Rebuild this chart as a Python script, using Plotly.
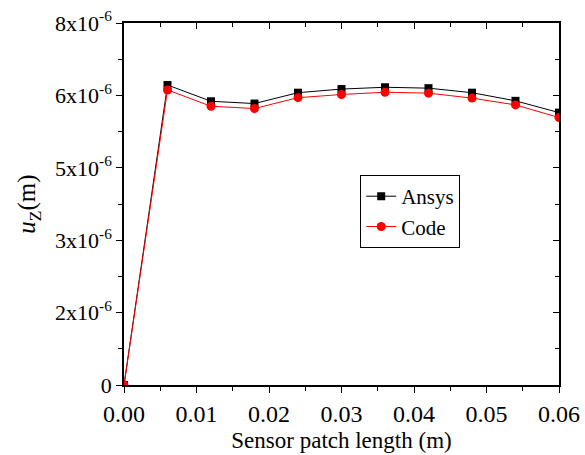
import plotly.graph_objects as go

x_vals = [0.0, 0.006, 0.012, 0.018, 0.024, 0.030, 0.036, 0.042, 0.048, 0.054, 0.060]
ansys = [0.0, 6.63e-6, 6.27e-6, 6.22e-6, 6.46e-6, 6.54e-6, 6.58e-6, 6.56e-6, 6.46e-6, 6.28e-6, 6.02e-6]
code = [0.0, 6.52e-6, 6.16e-6, 6.11e-6, 6.35e-6, 6.42e-6, 6.47e-6, 6.45e-6, 6.34e-6, 6.19e-6, 5.91e-6]

y_tickvals = [0, 1.6e-6, 3.2e-6, 4.8e-6, 6.4e-6, 8e-6]
y_ticktext = ["0", "2x10<sup>-6</sup>", "3x10<sup>-6</sup>", "5x10<sup>-6</sup>",
              "6x10<sup>-6</sup>", "8x10<sup>-6</sup>"]
y_minor = [0.8e-6, 2.4e-6, 4.0e-6, 5.6e-6, 7.2e-6]
x_tickvals = [0.0, 0.01, 0.02, 0.03, 0.04, 0.05, 0.06]
x_ticktext = ["0.00", "0.01", "0.02", "0.03", "0.04", "0.05", "0.06"]

FONT = "Liberation Serif"

fig = go.Figure()
fig.add_trace(go.Scatter(x=x_vals, y=ansys, mode="lines+markers", name="Ansys",
                         line=dict(color="black", width=1),
                         marker=dict(symbol="square", size=8, color="black")))
fig.add_trace(go.Scatter(x=x_vals, y=code, mode="lines+markers", name="Code",
                         line=dict(color="red", width=1),
                         marker=dict(symbol="circle", size=9, color="red")))
fig.add_trace(go.Scatter(x=[0], y=[0], xaxis="x2", yaxis="y2", mode="markers",
                         marker=dict(opacity=0), showlegend=False, hoverinfo="skip"))

axis_common = dict(showgrid=False, zeroline=False, showline=True, linecolor="black",
                   linewidth=1.5, ticklen=6, tickwidth=1.2, tickcolor="black",
                   automargin=False)

fig.update_layout(
    width=585, height=455,
    margin=dict(l=124, r=26, t=23, b=70),
    paper_bgcolor="white", plot_bgcolor="white",
    font=dict(family=FONT, color="black"),
    xaxis=dict(range=[0, 0.06], tickvals=x_tickvals, ticktext=x_ticktext,
               ticks="outside", minor=dict(ticks="outside", dtick=0.005, ticklen=4, tickcolor="black"),
               tickfont=dict(size=24, family=FONT),
               title=dict(text="Sensor patch length (m)", font=dict(size=23, family=FONT), standoff=6),
               **axis_common),
    yaxis=dict(range=[0, 8e-6], tickvals=y_tickvals, ticktext=y_ticktext,
               ticks="outside", minor=dict(ticks="outside", tickvals=y_minor,
                                           ticklen=4, tickcolor="black"),
               tickfont=dict(size=22, family=FONT),
               title=dict(text="<i>u</i><sub>Z</sub>(m)", font=dict(size=25, family=FONT), standoff=12),
               **axis_common),
    xaxis2=dict(range=[0, 0.06], overlaying="x", side="top", tickvals=x_tickvals,
                showticklabels=False, ticks="inside",
                minor=dict(ticks="inside", dtick=0.005, ticklen=4, tickcolor="black"),
                **axis_common),
    yaxis2=dict(range=[0, 8e-6], overlaying="y", side="right", tickvals=y_tickvals,
                showticklabels=False, ticks="inside",
                minor=dict(ticks="inside", tickvals=y_minor, ticklen=4, tickcolor="black"),
                **axis_common),
    legend=dict(x=0.543, y=0.58, xanchor="left", yanchor="top",
                bordercolor="black", borderwidth=1, bgcolor="white",
                font=dict(size=21, family=FONT), tracegroupgap=0,
                itemwidth=30),
    showlegend=True,
)

fig.add_annotation(text="(a)", xref="paper", yref="paper", x=0.393, y=1.0, yshift=22,
                   xanchor="center", yanchor="bottom", showarrow=False,
                   font=dict(size=22, family=FONT))

fig.write_html("out.html", config={"displayModeBar": False},
               post_script="document.body.style.margin='0';")
